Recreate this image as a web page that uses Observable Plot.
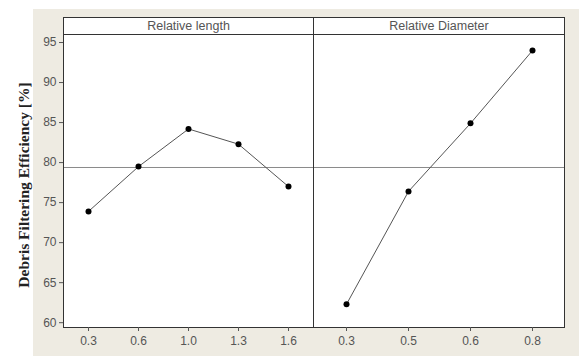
<!DOCTYPE html>
<html><head><meta charset="utf-8">
<script src="https://cdn.jsdelivr.net/npm/d3@7"></script>
<script src="https://cdn.jsdelivr.net/npm/@observablehq/plot@0.6"></script>
<style>
html,body{margin:0;padding:0;background:#fff;}
#wrap{position:relative;width:579px;height:356px;overflow:hidden;background:#fff;}
#bg{position:absolute;left:33px;top:9px;width:546px;height:347px;background:#eeebe2;}
#left{position:absolute;left:33px;top:9px;}
#right{position:absolute;left:313px;top:9px;}
#ylab{position:absolute;left:24px;top:185px;transform:translate(-50%,-50%) rotate(-90deg);white-space:nowrap;
 font-family:"Liberation Serif","Times New Roman",serif;font-weight:bold;font-size:15.5px;color:#222;}
</style></head>
<body>
<div id="wrap"><div id="bg"></div><div id="left"></div><div id="right"></div>
<div id="ylab">Debris Filtering Efficiency [%]</div></div>
<script>
const lengthCats = ["0.3","0.6","1.0","1.3","1.6"];
const lengthValues = [73.9, 79.5, 84.2, 82.3, 77.0];
const diameterCats = ["0.3","0.5","0.6","0.8"];
const diameterValues = [62.3, 76.4, 84.9, 94.0];
const yTicks = [60,65,70,75,80,85,90,95];
const panelTitles = ["Relative length","Relative Diameter"];

const overallMean = d3.mean(lengthValues.concat(diameterValues));
const yDomain = [59.4, 98.125];
const stripLine = 96;
const stripText = 97.06;
const font = '"Liberation Sans", Arial, sans-serif';

function panel(cats, vals, title, opts) {
  const data = cats.map((c,i)=>({x:c,y:vals[i]}));
  const marks = [
    Plot.frame({fill:"#fff"}),
    Plot.ruleY([overallMean], {stroke:"#8a8a8a", strokeWidth:1}),
    Plot.line(data, {x:"x", y:"y", stroke:"#555", strokeWidth:1}),
    Plot.dot(data, {x:"x", y:"y", r:3, fill:"#000"}),
    Plot.ruleY([stripLine], {stroke:"#333", strokeWidth:1}),
    Plot.text([title], {y: stripText, frameAnchor:"middle", text: d=>d, fill:"#555", fontSize:12.5, fontFamily: font}),
    Plot.frame({stroke:"#333", strokeWidth:1}),
    Plot.axisX({tickSize:4, tickPadding:5, label:null, stroke:"#555", fontSize:12})
  ];
  if (opts.yaxis) marks.push(Plot.axisY({ticks: yTicks, tickSize:4, tickPadding:3, label:null, stroke:"#555", fontSize:12}));
  return Plot.plot({
    width: opts.width, height: 347,
    marginLeft: opts.ml, marginRight: opts.mr, marginTop: 8, marginBottom: 29,
    style: {background:"transparent", fontFamily: font, fontSize:"12px", color:"#555"},
    x: {type:"point", domain: cats, padding: 0.5, axis: null},
    y: {domain: yDomain, axis: null},
    marks
  });
}

document.getElementById("left").appendChild(panel(lengthCats, lengthValues, panelTitles[0], {width:280, ml:30, mr:0, yaxis:true}));
document.getElementById("right").appendChild(panel(diameterCats, diameterValues, panelTitles[1], {width:266, ml:0, mr:15, yaxis:false}));
</script>
</body></html>
